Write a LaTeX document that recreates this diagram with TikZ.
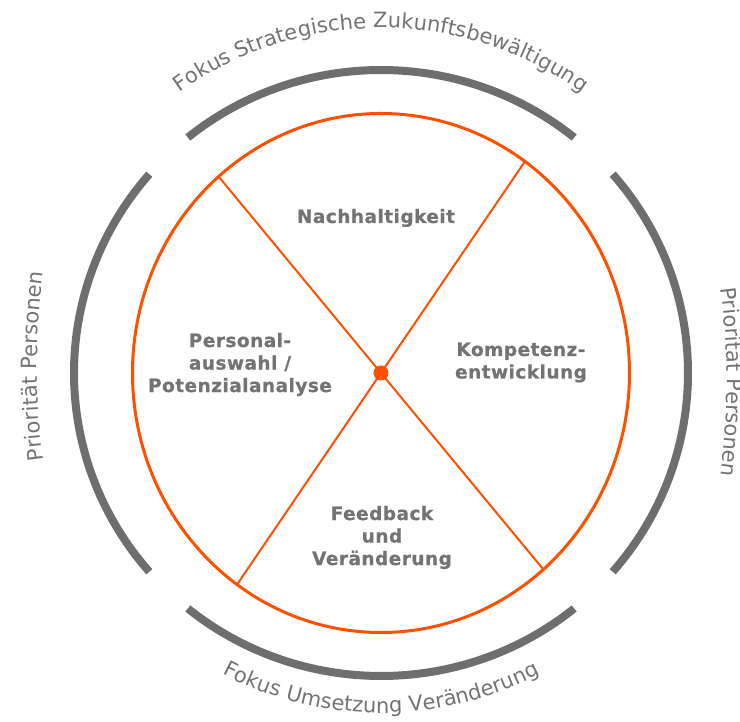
\documentclass[tikz,border=0pt]{standalone}
\usepackage{fontspec}
\setmainfont{DejaVu Sans}
\newfontfamily\segfont[LetterSpace=2.5, BoldFeatures={FakeBold=0.6}]{DejaVu Sans}
\newcommand\labelfont{\fontsize{21}{25}\selectfont}
\usetikzlibrary{decorations.text}

\definecolor{ringorange}{RGB}{255,80,0}
\definecolor{ringgray}{RGB}{110,110,110}
\definecolor{textgray}{RGB}{115,115,115}

\begin{document}
\begin{tikzpicture}[x=1pt, y=1pt,
    segment/.style={align=center, text=textgray, inner sep=0pt,
        font=\segfont\bfseries\fontsize{18.5}{22.5}\selectfont},
    divider/.style={ringorange, line width=2},
    focusarc/.style={ringgray, line width=8},
    ringlabel/.style={decorate, decoration={text along path, text align=center,
        text color=textgray, text={|\labelfont|#1}}}
]

% Frame
\clip (-381,-349) rectangle (359,373);

% Gray focus arcs
\draw[focusarc] (51:307 and 303) arc[start angle=51, end angle=129, x radius=307, y radius=303];
\draw[focusarc] (139:307 and 303) arc[start angle=139, end angle=221, x radius=307, y radius=303];
\draw[focusarc] (231:307 and 303) arc[start angle=231, end angle=309, x radius=307, y radius=303];
\draw[focusarc] (-41:307 and 303) arc[start angle=-41, end angle=41, x radius=307, y radius=303];

% Orange ring
\draw[ringorange, line width=3] (0,0) ellipse[x radius=248.5, y radius=259.5];
\coordinate (ne) at (54.6:248.5 and 259.5);
\coordinate (sw) at (234.6:248.5 and 259.5);
\coordinate (nw) at (130.8:248.5 and 259.5);
\coordinate (se) at (310.8:248.5 and 259.5);
\draw[divider] (ne) -- (sw);
\draw[divider] (nw) -- (se);
\node[circle, fill=ringorange, minimum size=15, inner sep=0pt] (hub) at (0,0) {};

% Segments
\node[segment, anchor=base] (nachhaltigkeit) at (-5,150) {Nachhaltigkeit};
\node[segment] (personal) at (-141,8.5) {Personal-\\auswahl /\\Potenzialanalyse};
\node[segment] (kompetenz) at (140,10.5) {Kompetenz-\\entwicklung};
\node[segment] (feedback) at (1,-164.5) {Feedback\\und\\Veränderung};

% Labels round the ring
\path[ringlabel={Fokus Strategische Zukunftsbewältigung}] (140:345) arc[start angle=140, end angle=40, radius=345];
\path[ringlabel={Fokus Umsetzung Veränderung}] (230:340) arc[start angle=230, end angle=310, radius=340];
\path[ringlabel={Priorität Personen}, shift={(387,6.5)}] (195:731) arc[start angle=195, end angle=165, radius=731];
\path[ringlabel={Priorität Personen}, shift={(-385,-9)}] (15:731) arc[start angle=15, end angle=-15, radius=731];

\end{tikzpicture}
\end{document}
